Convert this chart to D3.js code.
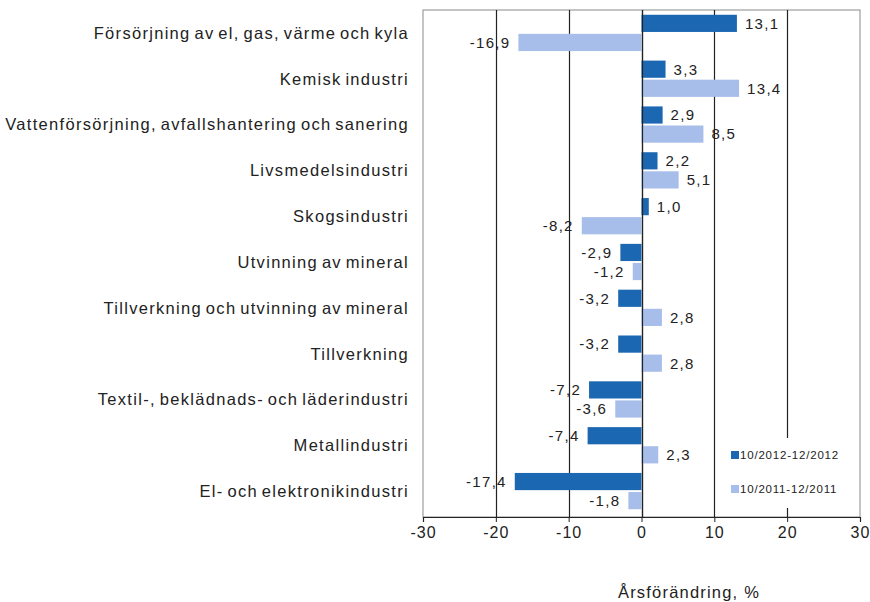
<!DOCTYPE html>
<html>
<head>
<meta charset="utf-8">
<title>Årsförändring</title>
<script src="https://d3js.org/d3.v7.min.js"></script>
<style>
  body { margin: 0; background: #fff; }
  text { font-family: "Liberation Sans", Arial, sans-serif; fill: #222; }
</style>
</head>
<body>
<svg id="chart"></svg>
<script>
// data
const categories = [
  "Försörjning av el, gas, värme och kyla",
  "Kemisk industri",
  "Vattenförsörjning, avfallshantering och sanering",
  "Livsmedelsindustri",
  "Skogsindustri",
  "Utvinning av mineral",
  "Tillverkning och utvinning av mineral",
  "Tillverkning",
  "Textil-, beklädnads- och läderindustri",
  "Metallindustri",
  "El- och elektronikindustri"
];
const series2012 = [13.1, 3.3, 2.9, 2.2, 1.0, -2.9, -3.2, -3.2, -7.2, -7.4, -17.4];
const series2011 = [-16.9, 13.4, 8.5, 5.1, -8.2, -1.2, 2.8, 2.8, -3.6, 2.3, -1.8];
const seriesNames = ["10/2012-12/2012", "10/2011-12/2011"];
const xTicks = [-30, -20, -10, 0, 10, 20, 30];
const axisTitle = "Årsförändring, %";

const width = 870, height = 602;
const plot = { left: 423, right: 860, top: 10, bottom: 517 };
const colors = ["#1c67b1", "#a7bdea"];

const svg = d3.select("#chart").attr("width", width).attr("height", height);

const x = d3.scaleLinear().domain([-30, 30]).range([plot.left, plot.right]);
const y = d3.scaleBand().domain(categories).range([plot.top, plot.bottom - 3]);
const inner = d3.scaleBand().domain([0, 1]).range([0, y.bandwidth()])
  .paddingInner(0.1).paddingOuter(0.25);

const rows = categories.map((c, i) => ({ cat: c, vals: [series2012[i], series2011[i]] }));
const fmt = v => v.toFixed(1).replace(".", ",");

// plot border
svg.append("rect")
  .attr("x", plot.left).attr("y", plot.top)
  .attr("width", plot.right - plot.left).attr("height", plot.bottom - plot.top)
  .attr("fill", "none").attr("stroke", "#8a8a8a").attr("stroke-width", 1);

// grid lines
svg.append("g").selectAll("line")
  .data(xTicks.filter(t => t !== -30 && t !== 30))
  .join("line")
  .attr("x1", d => Math.round(x(d)) + 0.5).attr("x2", d => Math.round(x(d)) + 0.5)
  .attr("y1", plot.top).attr("y2", plot.bottom)
  .attr("stroke", "#222").attr("stroke-width", 1.2);

// bars
const groups = svg.append("g").selectAll("g")
  .data(rows).join("g")
  .attr("transform", d => `translate(0,${y(d.cat)})`);

groups.selectAll("rect")
  .data(d => d.vals.map((v, k) => ({ v, k })))
  .join("rect")
  .attr("x", d => x(Math.min(0, d.v)))
  .attr("width", d => Math.abs(x(d.v) - x(0)))
  .attr("y", d => inner(d.k))
  .attr("height", inner.bandwidth())
  .attr("fill", d => colors[d.k]);

groups.selectAll("text")
  .data(d => d.vals.map((v, k) => ({ v, k })))
  .join("text")
  .attr("x", d => d.v >= 0 ? x(d.v) + 8 : x(d.v) - 8)
  .attr("y", d => inner(d.k) + inner.bandwidth() / 2)
  .attr("dy", "0.36em")
  .attr("text-anchor", d => d.v >= 0 ? "start" : "end")
  .style("font-size", "15px")
  .style("letter-spacing", "1.3px")
  .text(d => fmt(d.v));

// zero line on top
svg.append("line")
  .attr("x1", Math.round(x(0)) + 0.5).attr("x2", Math.round(x(0)) + 0.5)
  .attr("y1", plot.top).attr("y2", plot.bottom)
  .attr("stroke", "#222").attr("stroke-width", 1.2);

// category labels
svg.append("g").selectAll("text")
  .data(categories).join("text")
  .attr("x", 409)
  .attr("y", d => y(d) + y.bandwidth() / 2)
  .attr("dy", "0.36em")
  .attr("text-anchor", "end")
  .style("font-size", "16.5px")
  .style("letter-spacing", "1.3px")
  .style("word-spacing", "-2px")
  .text(d => d);

// x axis
const xAxis = d3.axisBottom(x).tickValues(xTicks).tickSize(5).tickPadding(5)
  .tickFormat(d => d);
const ax = svg.append("g")
  .attr("transform", `translate(0,${plot.bottom})`)
  .call(xAxis);
ax.select(".domain").attr("stroke", "#222").attr("stroke-width", 1.2);
ax.selectAll(".tick line").attr("stroke", "#222");
ax.selectAll(".tick text")
  .style("font-family", "'Liberation Sans', Arial, sans-serif")
  .style("font-size", "16px").style("letter-spacing", "1px").attr("fill", "#222");

svg.append("text")
  .attr("x", 689).attr("y", 598)
  .attr("text-anchor", "middle")
  .style("font-size", "16.5px")
  .style("letter-spacing", "1.2px")
  .text(axisTitle);

// legend
const legend = svg.append("g");
legend.append("rect")
  .attr("x", 724).attr("y", 438).attr("width", 132).attr("height", 70)
  .attr("fill", "#fff");
const li = legend.selectAll("g").data(seriesNames).join("g")
  .attr("transform", (d, i) => `translate(731,${455 + i * 34})`);
li.append("rect").attr("x", 0).attr("y", -4).attr("width", 8).attr("height", 8)
  .attr("fill", (d, i) => colors[i]);
li.append("text").attr("x", 9).attr("y", 0).attr("dy", "0.35em")
  .style("font-size", "11.5px").style("letter-spacing", "0.8px")
  .text(d => d);
</script>
</body>
</html>
